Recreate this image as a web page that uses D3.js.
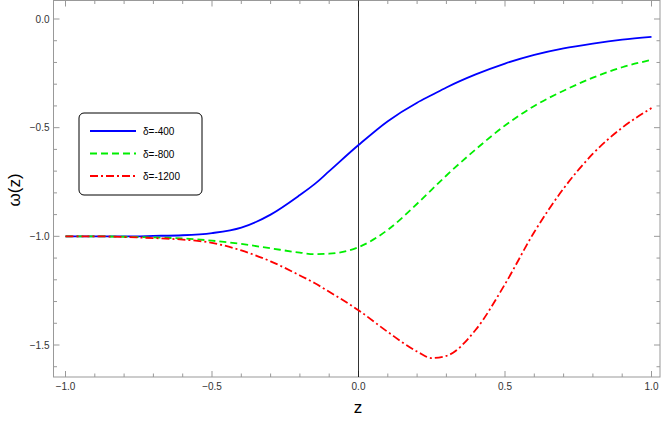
<!DOCTYPE html><html><head><meta charset="utf-8"><script src="https://cdn.jsdelivr.net/npm/d3@7"></script>
<style>body{margin:0;background:#fff}text{font-family:"Liberation Sans",Arial,sans-serif}</style></head><body>
<svg id="c" width="664" height="421"></svg>
<script>
const zVals=[-1,-0.9,-0.8,-0.7,-0.6,-0.5,-0.4,-0.3,-0.2,-0.15,-0.1,0,0.1,0.2,0.25,0.3,0.4,0.5,0.6,0.7,0.8,0.9,1.0];
const w400=[-1,-1,-1,-0.998,-0.995,-0.985,-0.96,-0.9,-0.81,-0.76,-0.7,-0.58,-0.47,-0.385,-0.35,-0.315,-0.255,-0.205,-0.165,-0.135,-0.113,-0.095,-0.082];
const w800=[-1,-1,-1.002,-1.005,-1.01,-1.02,-1.035,-1.055,-1.075,-1.082,-1.08,-1.05,-0.97,-0.85,-0.785,-0.72,-0.6,-0.49,-0.4,-0.33,-0.27,-0.222,-0.188];
const w1200=[-1,-1,-1.003,-1.008,-1.015,-1.03,-1.065,-1.115,-1.18,-1.215,-1.255,-1.34,-1.44,-1.53,-1.56,-1.55,-1.43,-1.22,-0.98,-0.78,-0.62,-0.5,-0.41];
const labels=["δ=-400","δ=-800","δ=-1200"];
const colors=["#0000ff","#00ee00","#ff0000"];
const dashes=[null,"7,4","8,3,2,3"];
const xTicks=[-1,-0.5,0,0.5,1], yTicks=[0,-0.5,-1,-1.5];
const svg=d3.select("#c");
const L=53.5,R=660,T=0.5,B=377;
const x=d3.scaleLinear().domain([-1,1]).range([65.5,651.5]);
const y=d3.scaleLinear().domain([0,-1.5]).range([19,345]);
const g=svg.append("g");
g.append("rect").attr("x",L).attr("y",T).attr("width",R-L).attr("height",B-T).attr("fill","none").attr("stroke","#999");
const fmt=d=>(d===0?"0.0":d.toFixed(1)).replace("-","−");
// minor ticks
d3.range(-10,11).forEach(i=>{const v=i/10,major=i%5===0,len=major?6:3.5;
 [[B,-1],[T,1]].forEach(([yy,s])=>g.append("line").attr("x1",x(v)).attr("x2",x(v)).attr("y1",yy).attr("y2",yy+s*len).attr("stroke","#999"));});
d3.range(-16,1).forEach(i=>{const v=i/10,major=i%5===0,len=major?6:3.5;
 [[L,1],[R,-1]].forEach(([xx,s])=>g.append("line").attr("y1",y(v)).attr("y2",y(v)).attr("x1",xx).attr("x2",xx+s*len).attr("stroke","#999"));});
xTicks.forEach(v=>g.append("text").attr("x",x(v)).attr("y",B+13).attr("text-anchor","middle").attr("font-size",10).attr("fill","#333").text(fmt(v)));
yTicks.forEach(v=>g.append("text").attr("x",L-4).attr("y",y(v)+3.5).attr("text-anchor","end").attr("font-size",10).attr("fill","#333").text(fmt(v)));
g.append("line").attr("x1",x(0)).attr("x2",x(0)).attr("y1",T).attr("y2",B).attr("stroke","#000").attr("stroke-width",0.8);
g.append("text").attr("x",358).attr("y",413).attr("text-anchor","middle").attr("font-size",17).text("z");
g.append("text").attr("transform","translate(20,190) rotate(-90)").attr("text-anchor","middle").attr("font-size",17).text("ω(z)");
const line=d3.line().x((d,i)=>x(zVals[i])).y(d=>y(d)).curve(d3.curveMonotoneX);
[w400,w800,w1200].forEach((s,k)=>g.append("path").attr("d",line(s)).attr("fill","none").attr("stroke",colors[k]).attr("stroke-width",1.8).attr("stroke-dasharray",dashes[k]));
g.append("rect").attr("x",79).attr("y",113).attr("width",123).attr("height",82).attr("rx",5).attr("fill","#fff").attr("stroke","#000");
labels.forEach((t,k)=>{const yy=131+k*22.5;
 g.append("line").attr("x1",90).attr("x2",136).attr("y1",yy).attr("y2",yy).attr("stroke",colors[k]).attr("stroke-width",1.8).attr("stroke-dasharray",dashes[k]);
 g.append("text").attr("x",143).attr("y",yy+4).attr("font-size",10).text(t);});
</script></body></html>
